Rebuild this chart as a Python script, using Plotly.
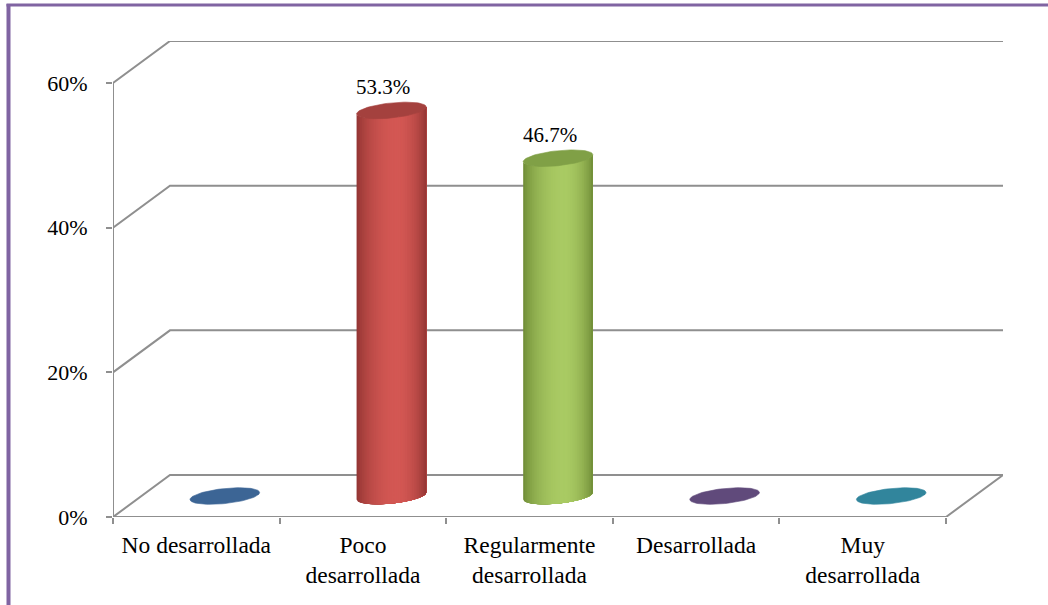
import numpy as np
import plotly.graph_objects as go

# ---- data ----
categories = ["No desarrollada", "Poco<br>desarrollada", "Regularmente<br>desarrollada",
              "Desarrollada", "Muy<br>desarrollada"]
values = [0.0, 53.3, 46.7, 0.0, 0.0]
y_ticks = [0, 20, 40, 60]
y_tick_text = ["0%", "20%", "40%", "60%"]

# per-category colours: (light body, dark body edge, top cap)
palette = [
    ("#4a76a8", "#2f5480", "#3c6595"),
    ("#d35753", "#8f3331", "#a4413e"),
    ("#a9ca63", "#6c8934", "#80a046"),
    ("#745c92", "#4f3c68", "#604a7b"),
    ("#3f9bb4", "#276e82", "#31859c"),
]

# ---- layout geometry ----
W, H = 1048, 605
ML, MR, MT, MB = 113, 45, 41, 88
PW, PH = W - ML - MR, H - MT - MB
DX, DY = 0.342, 5.8          # depth offset of the back wall (category units, %)
n = len(categories)
x_range = [-0.5, n - 0.5 + DX]
y_range = [0, y_ticks[-1] + DY]
kx = PW / (x_range[1] - x_range[0])   # px per category unit
ky = PH / (y_range[1] - y_range[0])   # px per percent

GRID = "#8f8f8f"
FONT = "Liberation Serif, Times New Roman, serif"

fig = go.Figure()

# ---- 3D frame: front axis, floor and back-wall gridlines ----
gx, gy = [], []
x0, x1 = -0.5, n - 0.5
for v in y_ticks:
    gx += [x0, x0 + DX, x1 + DX, None]
    gy += [v, v + DY, v + DY, None]
gx += [x1 + DX, x1, x0, x0, None]
gy += [DY, 0, 0, y_ticks[-1], None]
fig.add_trace(go.Scatter(x=gx, y=gy, mode="lines", line=dict(color=GRID, width=2),
                         hoverinfo="skip", showlegend=False))

# ---- cylinders ----
A_PX, B_PX, TILT = 35.0, 7.5, np.radians(6)


def ellipse(t):
    X = A_PX * np.cos(t) * np.cos(TILT) - B_PX * np.sin(t) * np.sin(TILT)
    Y = A_PX * np.cos(t) * np.sin(TILT) + B_PX * np.sin(t) * np.cos(TILT)
    return X / kx, Y / ky


def mix(c1, c2, f):
    a = [int(c1[i:i + 2], 16) for i in (1, 3, 5)]
    b = [int(c2[i:i + 2], 16) for i in (1, 3, 5)]
    return "rgb(%d,%d,%d)" % tuple(round(p + (q - p) * f) for p, q in zip(a, b))


R = np.hypot(A_PX * np.cos(TILT), B_PX * np.sin(TILT))
DELTA = np.arctan2(B_PX * np.sin(TILT), A_PX * np.cos(TILT))
NSTRIP = 40
base = DY / 2

for i, v in enumerate(values):
    light, dark, top = palette[i]
    cx = i + DX / 2
    if v > 0:
        us = np.linspace(-R, R, NSTRIP + 1)
        ts = np.pi + np.arccos(np.clip(-us / R, -1, 1)) - DELTA
        # each band runs from its own left edge to the right side of the body,
        # so later bands overlap earlier ones and no seams show
        for k in range(NSTRIP):
            tt = np.linspace(ts[k], ts[-1], 24)
            ex, ey = ellipse(tt)
            px = list(cx + ex) + list(cx + ex[::-1])
            py = list(base + ey) + list(base + v + ey[::-1])
            s = (us[k] + us[k + 1]) / 2 / R
            d = (s - 0.15) / (0.85 if s > 0.15 else 1.15)
            shade = np.cos(np.clip(d, -1, 1) * np.pi / 2) ** 0.7
            col = mix(dark, light, shade)
            fig.add_trace(go.Scatter(x=px, y=py, mode="lines", fill="toself",
                                     fillcolor=col, line=dict(width=0),
                                     hoverinfo="skip", showlegend=False))
    t = np.linspace(0, 2 * np.pi, 80)
    ex, ey = ellipse(t)
    fig.add_trace(go.Scatter(x=cx + ex, y=base + v + ey, mode="lines", fill="toself",
                             fillcolor=top, line=dict(color=top, width=0.6),
                             hoverinfo="skip", showlegend=False))
    if v > 0:
        fig.add_annotation(x=cx, y=base + v, text=f"{v:.1f}%", showarrow=False,
                           xanchor="center", yanchor="bottom", yshift=9, xshift=-8,
                           font=dict(family=FONT, size=21, color="black"))

# invisible trace so the tick-mark axis is drawn
fig.add_trace(go.Scatter(x=[0], y=[0], xaxis="x2", mode="markers",
                         marker=dict(opacity=0), hoverinfo="skip", showlegend=False))

# ---- outer frame (top and left edges) ----
def paper_x(px):
    return (px - ML) / PW


def paper_y(py):
    return (H - MB - py) / PH


fig.add_shape(type="line", xref="paper", yref="paper",
              x0=paper_x(8.5), x1=paper_x(8.5), y0=paper_y(4), y1=paper_y(H + 2),
              line=dict(color="#8064a2", width=4))
fig.add_shape(type="line", xref="paper", yref="paper",
              x0=paper_x(6.5), x1=paper_x(W + 2), y0=paper_y(5), y1=paper_y(5),
              line=dict(color="#8064a2", width=3))

fig.update_layout(
    width=W, height=H,
    margin=dict(l=ML, r=MR, t=MT, b=MB),
    paper_bgcolor="white", plot_bgcolor="white",
    showlegend=False,
    xaxis=dict(range=x_range, tickmode="array", tickvals=list(range(n)),
               ticktext=categories, ticks="", showgrid=False, zeroline=False,
               showline=False, tickfont=dict(family=FONT, size=23.5, color="black"),
               ticklabelstandoff=11, fixedrange=True),
    xaxis2=dict(range=x_range, overlaying="x", anchor="y", side="bottom",
                tickmode="array", tickvals=[b - 0.5 for b in range(n + 1)],
                ticks="outside", ticklen=6, tickwidth=2, tickcolor=GRID,
                showticklabels=False, showgrid=False, zeroline=False, showline=False,
                fixedrange=True),
    yaxis=dict(range=y_range, tickmode="array", tickvals=y_ticks, ticktext=y_tick_text,
               ticks="outside", ticklen=6, tickwidth=2, tickcolor=GRID,
               showgrid=False, zeroline=False, showline=False,
               tickfont=dict(family=FONT, size=22, color="black"),
               ticklabelstandoff=14, fixedrange=True),
)

fig.write_html("out.html")
